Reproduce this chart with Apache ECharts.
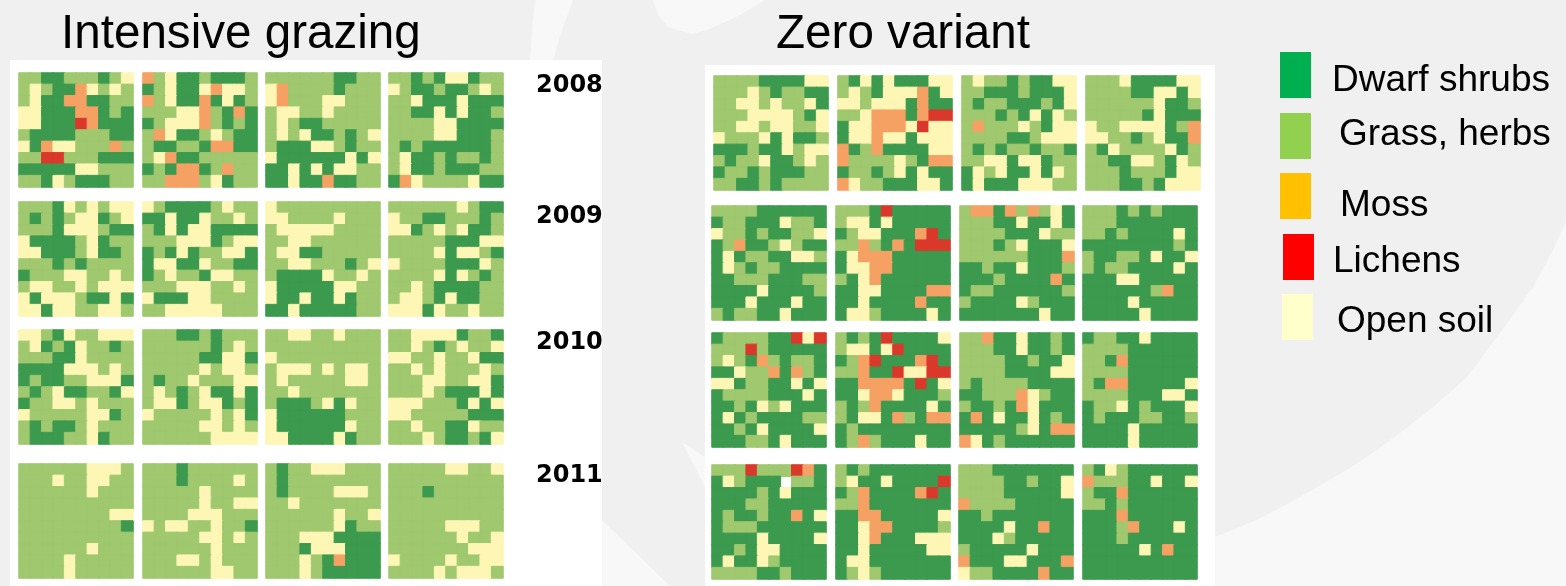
<html>
    <head>
        <meta charset="utf-8">
        <script src="https://cdn.jsdelivr.net/npm/echarts@6/dist/echarts.min.js"></script>
    </head>
    <body>
        <style>
            html, body, #main {
                width: 100%;
                height: 100%;
                margin: 0;
                background: #f0f0f0;
            }
        </style>
        <div id="main"></div>
        <script>

        // D shrubs, G grass, M moss, L lichens, O open soil, W no data
        var legendNames = ['Dwarf shrubs', 'Grass, herbs', 'Moss', 'Lichens', 'Open soil'];
        var cellCodes = ['D', 'G', 'M', 'L', 'O'];
        var years = ['2008', '2009', '2010', '2011'];

        var intensive2008 = [
            ['GGDDGGGDGO', 'GOGDDMOGOG', 'GODDMMDDGG', 'OODDDMMDGD', 'OODDDLMDDD', 'GDDDDGGGDD', 'ODMOOGGGMG', 'GGLLGGGDDD', 'DDDDDOOGGG', 'GGDOGDDDGG'],
            ['MGODDGDDDG', 'DGODDOMOOG', 'MGODDMDODG', 'GGGOOMGDMD', 'DGOOOMGDGD', 'GMODDGOGDD', 'GDDGGDMMDD', 'GOMDDGGGGG', 'DGDMMDGMGG', 'GGMMMGODGG'],
            ['GGGGGGDDGG', 'OMGGGGDGGG', 'OMGGGOOGGG', 'GOOGGOGGGG', 'GOGDDGGGGG', 'GOGODDGDGO', 'GDDDOOGDGG', 'ODDDDDDODO', 'DDODODOOGG', 'DDODDMDDGG'],
            ['GGDGDOODGG', 'OGDDGDDGOG', 'GGODDDODDD', 'GGDDODODDG', 'GGGGOODDDD', 'GGGGOODDDG', 'GDGDDDDDDG', 'GODDGDGGDG', 'GODDGDDDGG', 'DMOGGGGODD']
        ];
        var intensive2009 = [
            ['GGGDOGOGOO', 'GDGDGOODGO', 'GGGDOOOGDD', 'ODDDDGODGG', 'OODDDGODDG', 'GGGDGDGGGG', 'DGGGOOGGOG', 'GOOGGOGOOO', 'ODOOOGDDOD', 'OODOOGGOOG'],
            ['OGDDDDGOGG', 'DDODDOGGOG', 'GDODOODDDD', 'GGGOOODGOO', 'DGDODGGOOD', 'DOODDOGGDD', 'DGOGGDOOGG', 'GGGOOOGGOG', 'ODDDOOGGGG', 'GGOOOOOGGG'],
            ['OGGGGGGGGG', 'OOGGGGOGGG', 'GOOOOOGGGG', 'GGOOGGGGGG', 'GOODDGGGGG', 'GGOOGGGDGO', 'GDDDDOGGOG', 'ODDDDDOOGG', 'ODDODDODGG', 'DDODDDDDGG'],
            ['GGGGGGOGDD', 'OGGDDGGGDG', 'OODGOGODDG', 'GGGGGDDDOO', 'GGGGODOOGD', 'OGGGGDDDOG', 'GGGGODOGDG', 'GGOGDDDDGG', 'GOOGDODDGG', 'OOODOGGOGG']
        ];
        var intensive2010 = [
            ['OOGDOGGOOO', 'GODGDOGGDG', 'GGGDDOGGGG', 'DDDDOOOGOG', 'DGDDGGOOOD', 'GDGODDGGDO', 'DGGOOGOGGG', 'OGGGGGOODG', 'GDGDDGOGGG', 'GDDDGGODGG'],
            ['GGGDDGDGGG', 'GGGGGGDGOG', 'GGGGGDDOOD', 'GGGGGOGOOG', 'GDGGOGGGOO', 'GOGDGODDOD', 'GOODGOODGD', 'OGGGGGOGOD', 'GGGGGOOGOG', 'GGGGGGOOOO'],
            ['GGOOGGOGGG', 'GGGGGGGGGG', 'OGGGGGGGGG', 'GOOOGOGOOG', 'GOGGGGGOOG', 'GGOGGGGGGG', 'GDDDGODOGG', 'ODDDDDDGGG', 'ODDDDDDOGG', 'OODDDDODGG'],
            ['GGOOOODGGD', 'GGOGDGOGGO', 'OOGGOGGODD', 'GGOGOGGGOG', 'GGGOOGGOOD', 'GGGOGDDDOD', 'OOOGGGDODO', 'OOGGGGGDDD', 'GGOGGDDOGG', 'GGGOGDDGDO']
        ];
        var intensive2011 = [
            ['GGGGGGOOOG', 'GGGOGGOOGG', 'GGGGGGOGGG', 'GGGGGGGGGG', 'GGGGGGGGOO', 'GGGGGGGGGD', 'GGGGGGGGGG', 'GGGGGGOGGG', 'GGGGOGGGGG', 'GGGGOGGGGG'],
            ['GGGDGGGGGG', 'GGGDGGGGOG', 'GGGGGOGGGG', 'GGGGGOGGOO', 'GGGGOOOGGG', 'OGOOGGOGGD', 'GGGGGOOGOG', 'GGGGGGOGGG', 'GGGOOGOGGG', 'GGGGGGOOGG'],
            ['GDGGOOOGGG', 'GDGGGGGGGG', 'GDGGGGOOOG', 'GGOGGGGGGG', 'GGGGGGOGGO', 'GGGGGGODGG', 'GGGOOODDDD', 'GGGDOOODDD', 'GGGOGDMDDD', 'GGGOGDDDDD'],
            ['GGGGGOOGGO', 'GGGGGGGGGG', 'GGGDGGGGGG', 'GGGGGGGGGG', 'GGGGGGGGGG', 'GGGGGOOOGG', 'GGGGGGOGGO', 'GGGGGGGOOO', 'OGGGGOGGOO', 'GGGGOGOOOG']
        ];

        var zero2008 = [
            ['GGGGDDDDOO', 'GGGOGDGGDD', 'GGOOGOGGOD', 'GGGOOOOGDO', 'GGOOGOOGGO', 'OGGGODODDG', 'DDDGDDOGOO', 'GDGGODDGOG', 'DGGDGDDDGG', 'GGDDGDGGGG'],
            ['GDODODDDOO', 'GOGDOOOMDO', 'OOGOOODMDD', 'GGOMMMDMLL', 'DOOMMMOLOO', 'DOOMOODOOO', 'MDGMDDDDOO', 'MGGGGOGDMM', 'DGGDGODODD', 'MOGGDDDOOD'],
            ['GOGGDGDDOO', 'GGDDDGDDDO', 'GDGGDDDGDO', 'GGGDGDODOG', 'GMGGGOGDOO', 'GGGGDDGOOO', 'GDGDGGDGGD', 'GGOODOODGG', 'DOGODDODOG', 'DODDDOOOGG'],
            ['GGGODDDDOO', 'GGGGDDOODO', 'GGGGGGODDG', 'GGGGGDODDD', 'OGGOOOODGM', 'OOGGDGODDM', 'GDOGGGGODG', 'GGDDOOGDOG', 'GGGDGGGDOO', 'GGGDDGDOOO']
        ];
        var zero2009 = [
            ['GGGGDDDDDD', 'DGGDDDOGGD', 'OGGDGDDGGO', 'DGMDDGOGDD', 'DODGGDDOOG', 'DOGDGGDDDD', 'DDGGGDDDGG', 'DDDDODDDDG', 'DDDODDDODD', 'GDGGDDODDD'],
            ['GGGDLDDDDD', 'GOODODDDDD', 'DGOODDDMLD', 'GGMGDMDLLL', 'DOMMMDDDDD', 'DOOMMDDDDD', 'GDOMDDDDDD', 'DDOODDDDMM', 'DDODDDDMDD', 'DOOGDDDDOD'],
            ['GMMDMGMGOD', 'GGGDDODDOD', 'GGGGDDDOGG', 'GGGDGODDDO', 'GGGGGGDDDM', 'DDGDDODDDG', 'DDDGDDDDMD', 'DGGDDDDDDG', 'GDDDDOGDDD', 'DDDDDDDODD'],
            ['GGGDGDGDDD', 'GGGDDDDDDD', 'GGDGDDDDOD', 'DDDDDDDDGD', 'GDDGGDODDO', 'GDGGDDDDOD', 'DDDOODDDDD', 'DDDDDDGMDD', 'DDDDODDDDD', 'DDDDDODDDD']
        ];
        var zero2010 = [
            ['DGGGGDDLOL', 'GGGLGDDDDD', 'GOGDMGDGGD', 'DDOGGMDMGD', 'OODGGDDODO', 'DGGGGDDDOD', 'DDGDOGODDD', 'DODGDDDDGG', 'DDGDODDDDO', 'DDDGGDODDD'],
            ['GDGDLDDDDO', 'GOODOLDDDD', 'DGMLDDDMLD', 'GGMDDLOOLL', 'DDMMMMDLDO', 'DDOMMODDDG', 'GDGMDDDDOD', 'GDOODMGDMM', 'DGDDDDDDDD', 'DGMGDDDODD'],
            ['GGMDDODDGD', 'GGGDDODDGD', 'GGGGDDGDDO', 'GGGGDDDDOO', 'GDGGGGDDDD', 'DDGGGMOGDD', 'GDDGDMODDD', 'DMDODDODGD', 'DDDDDGODMM', 'MODGDDDDDD'],
            ['DGGDDODDDD', 'GGGGDDDDDD', 'GGDMDDDDDD', 'GGGGDDDDDD', 'GDMMDDDDDO', 'GGGGDDDOOD', 'DGGODGDDDO', 'DGDDDGGDDG', 'DDDDODDDDD', 'DDDDODDDDD']
        ];
        var zero2011 = [
            ['GGGLGGGLMD', 'DOGDDDWGGD', 'DDDDGDODDD', 'DDDGGDDDDD', 'DGDDGDDMDO', 'DGGGDDDDDD', 'DDDDODDDDO', 'DDGDOODDDD', 'DODDOGDDDD', 'GGGGDDGDDD'],
            ['GDGDDDDDDD', 'GODDODDDDL', 'DGMDDDDMLD', 'GGMDDDDDDD', 'DDMMDDDDDO', 'DDOMMDDDDG', 'DDOMDDDOOO', 'DDODDDDDOO', 'DOODDDDDDD', 'DGOGDDDDDD'],
            ['GGGDDDDDDD', 'GGGGDDGDDO', 'GGGGDDDDDO', 'MGGGGDDDDD', 'DDGDDDDDDD', 'DDDDODDMDD', 'DDDOGDDDDD', 'GDDDDDODDD', 'MDDDOODDDM', 'OGGDDDDMDD'],
            ['GDOGDDDDDD', 'MGGGDDODDO', 'GDDMDDDDDD', 'GGDGDDDDDD', 'DDDMDDDDDD', 'DDDGMDDDOD', 'DDDGDDDDDD', 'DDDDDODMDD', 'DDDDDDDDDD', 'DDDDDDDDDD']
        ];

        var cellColors = ['#3b9a4e', '#9fc86f', '#f6a164', '#db382c', '#fdf6b5'];
        var legendColors = ['#00b050', '#92d050', '#ffc000', '#ff0000', '#ffffcc'];
        var cellSize = 114;

        var chart = echarts.init(document.getElementById('main'));

        var grids = [];
        var xAxes = [];
        var yAxes = [];
        var series = [];
        var index = [0, 1, 2, 3, 4, 5, 6, 7, 8, 9];

        function addPlot(rows, left, top) {
            var n = grids.length;
            var data = [];
            rows.forEach(function (row, r) {
                row.split('').forEach(function (code, c) {
                    var value = cellCodes.indexOf(code);
                    if (value >= 0) {
                        // same colour border hides the seams between cells
                        data.push({
                            value: [c, r, value],
                            itemStyle: {borderColor: cellColors[value], borderWidth: 1}
                        });
                    }
                });
            });
            grids.push({left: left, top: top, width: cellSize, height: cellSize});
            xAxes.push({type: 'category', gridIndex: n, data: index, show: false});
            yAxes.push({type: 'category', gridIndex: n, data: index, show: false, inverse: true});
            series.push({
                type: 'heatmap',
                xAxisIndex: n,
                yAxisIndex: n,
                data: data,
                silent: true,
                animation: false,
                emphasis: {disabled: true}
            });
        }

        function addPanel(yearPlots, columns, tops) {
            yearPlots.forEach(function (plots, y) {
                plots.forEach(function (rows, p) {
                    addPlot(rows, columns[y][p], tops[y]);
                });
            });
        }

        var leftCols = [19, 143, 266, 389];
        addPanel(
            [intensive2008, intensive2009, intensive2010, intensive2011],
            [leftCols, leftCols, leftCols, leftCols],
            [73, 202, 330, 464]
        );
        addPanel(
            [zero2008, zero2009, zero2010, zero2011],
            [[714, 838, 962, 1086], [712, 836, 960, 1083], [712, 836, 960, 1083], [712, 836, 959, 1083]],
            [76, 206, 333, 465]
        );

        var graphics = [];

        // pale shapes of the slide background
        var paleShapes = [
            [[535, 0], [573, 0], [562, 30], [553, 60], [530, 60], [532, 30]],
            [[653, 0], [658, 15], [668, 27], [692, 34], [710, 29], [740, 15], [765, 0]],
            [[1215, 537], [1257, 520], [1300, 497], [1333, 478], [1367, 457], [1400, 433], [1433, 407], [1467, 377], [1500, 333], [1533, 287], [1553, 250], [1566, 222], [1566, 586], [1215, 586]],
            [[682, 442], [705, 457], [705, 487]],
            [[602, 520], [670, 586], [602, 586]]
        ];
        paleShapes.forEach(function (points) {
            graphics.push({type: 'polygon', shape: {points: points}, style: {fill: '#f8f8f8'}});
        });

        graphics.push(
            {type: 'rect', shape: {x: 10, y: 60, width: 592, height: 526}, style: {fill: '#fff'}},
            {type: 'rect', shape: {x: 705, y: 65, width: 510, height: 521}, style: {fill: '#fff'}},
            {type: 'text', x: 61, y: 35, style: {text: 'Intensive grazing', font: '47.6px "Liberation Sans"', fill: '#000', verticalAlign: 'middle'}},
            {type: 'text', x: 776, y: 35, style: {text: 'Zero variant', font: '47.6px "Liberation Sans"', fill: '#000', verticalAlign: 'middle'}}
        );

        var yearTops = [86, 217, 343, 476];
        years.forEach(function (year, i) {
            graphics.push({
                type: 'text', x: 536, y: yearTops[i],
                style: {text: year, font: 'bold 24px "DejaVu Sans"', fill: '#000', verticalAlign: 'middle'}
            });
        });

        var swatchX = [1280, 1280, 1280, 1283, 1282];
        var swatchY = [52, 113, 173, 234, 294];
        var labelX = [1332, 1339, 1340, 1333, 1337];
        var labelY = [81, 135, 206, 262, 322];
        legendNames.forEach(function (name, i) {
            graphics.push({
                type: 'rect',
                shape: {x: swatchX[i], y: swatchY[i], width: 31, height: 46},
                style: {fill: legendColors[i]}
            });
            graphics.push({
                type: 'text', x: labelX[i], y: labelY[i],
                style: {text: name, font: '37px "Liberation Sans"', fill: '#000', verticalAlign: 'middle'}
            });
        });

        chart.setOption({
            animation: false,
            backgroundColor: '#f0f0f0',
            grid: grids,
            xAxis: xAxes,
            yAxis: yAxes,
            visualMap: {
                type: 'piecewise',
                show: false,
                dimension: 2,
                seriesIndex: series.map(function (s, i) { return i; }),
                pieces: cellColors.map(function (color, i) {
                    return {value: i, color: color};
                })
            },
            graphic: graphics,
            series: series
        });

        </script>
    </body>
</html>
